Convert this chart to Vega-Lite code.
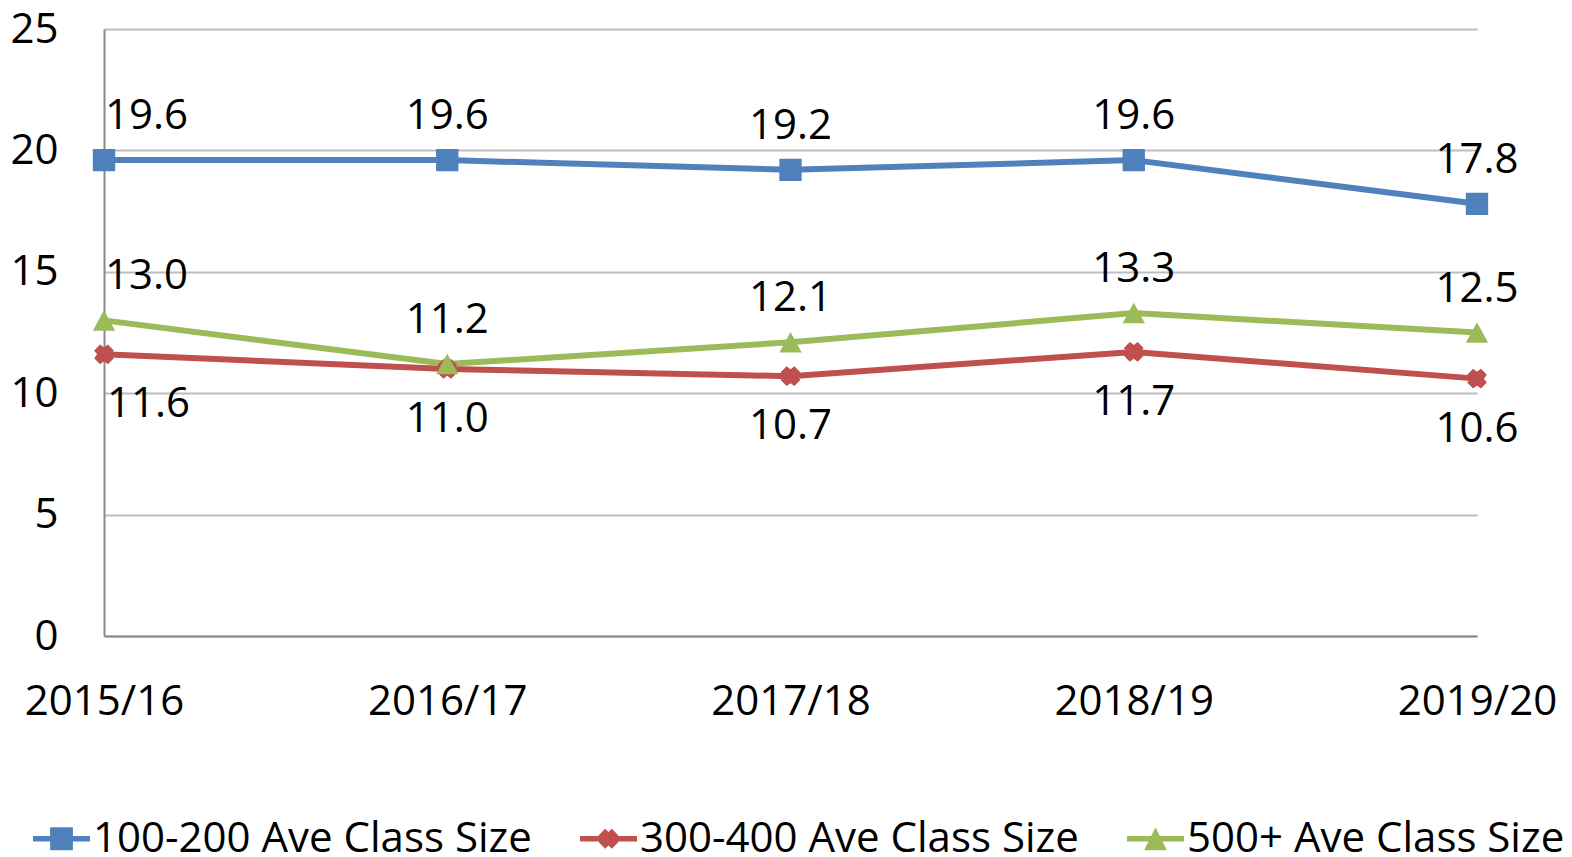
{
  "$schema": "https://vega.github.io/schema/vega-lite/v6.json",
  "width": 1373,
  "height": 607,
  "autosize": {"type": "none"},
  "padding": {"left": 104, "top": 29, "right": 95, "bottom": 221},
  "background": "white",
  "config": {
    "view": {"stroke": null},
    "font": "Open Sans",
    "axis": {
      "labelFont": "Open Sans",
      "labelFontSize": 42,
      "labelColor": "black",
      "domainColor": "#898989",
      "domainWidth": 2,
      "gridColor": "#BDBDBD",
      "gridWidth": 2,
      "ticks": false,
      "tickSize": 0,
      "title": null
    },
    "legend": {
      "labelFont": "Open Sans",
      "labelFontSize": 42,
      "labelColor": "black",
      "labelLimit": 800,
      "padding": 0
    }
  },
  "data": {
    "values": [
      {"year": "2015/16", "series": "100-200 Ave Class Size", "value": 19.6},
      {"year": "2016/17", "series": "100-200 Ave Class Size", "value": 19.6},
      {"year": "2017/18", "series": "100-200 Ave Class Size", "value": 19.2},
      {"year": "2018/19", "series": "100-200 Ave Class Size", "value": 19.6},
      {"year": "2019/20", "series": "100-200 Ave Class Size", "value": 17.8},
      {"year": "2015/16", "series": "300-400 Ave Class Size", "value": 11.6},
      {"year": "2016/17", "series": "300-400 Ave Class Size", "value": 11.0},
      {"year": "2017/18", "series": "300-400 Ave Class Size", "value": 10.7},
      {"year": "2018/19", "series": "300-400 Ave Class Size", "value": 11.7},
      {"year": "2019/20", "series": "300-400 Ave Class Size", "value": 10.6},
      {"year": "2015/16", "series": "500+ Ave Class Size", "value": 13.0},
      {"year": "2016/17", "series": "500+ Ave Class Size", "value": 11.2},
      {"year": "2017/18", "series": "500+ Ave Class Size", "value": 12.1},
      {"year": "2018/19", "series": "500+ Ave Class Size", "value": 13.3},
      {"year": "2019/20", "series": "500+ Ave Class Size", "value": 12.5}
    ]
  },
  "encoding": {
    "x": {
      "field": "year",
      "type": "ordinal",
      "scale": {"type": "point", "padding": 0},
      "axis": {"labelAngle": 0, "labelPadding": 45, "grid": false, "labelBaseline": "top"}
    },
    "y": {
      "field": "value",
      "type": "quantitative",
      "scale": {"domain": [0, 25], "nice": false, "zero": true},
      "axis": {"values": [0, 5, 10, 15, 20, 25], "labelPadding": 46, "grid": true}
    }
  },
  "layer": [
    {
      "mark": {"type": "line", "strokeWidth": 6, "strokeCap": "round", "strokeJoin": "round"},
      "encoding": {
        "color": {
          "field": "series",
          "type": "nominal",
          "scale": {
            "domain": ["100-200 Ave Class Size", "300-400 Ave Class Size", "500+ Ave Class Size"],
            "range": ["#4F81BD", "#C0504D", "#9BBB59"]
          },
          "legend": null
        }
      }
    },
    {
      "mark": {"type": "point", "filled": true, "opacity": 1, "size": 500, "strokeWidth": 0},
      "encoding": {
        "color": {
          "field": "series",
          "type": "nominal",
          "scale": {
            "domain": ["100-200 Ave Class Size", "300-400 Ave Class Size", "500+ Ave Class Size"],
            "range": ["#4F81BD", "#C0504D", "#9BBB59"]
          },
          "legend": null
        },
        "shape": {
          "field": "series",
          "type": "nominal",
          "scale": {
            "domain": ["100-200 Ave Class Size", "300-400 Ave Class Size", "500+ Ave Class Size"],
            "range": [
              "M-0.96,-1L0.96,-1L1,-0.96L1,0.96L0.96,1L-0.96,1L-1,0.96L-1,-0.96Z",
              "M-0.35,-0.88L0,-0.62L0.35,-0.88L0.88,-0.35L0.62,0L0.88,0.35L0.35,0.88L0,0.62L-0.35,0.88L-0.88,0.35L-0.62,0L-0.88,-0.35Z",
              "M0,-0.92L1,0.92L-1,0.92Z"
            ]
          },
          "legend": null
        }
      }
    },
    {
      "transform": [
        {"filter": "datum.series != '300-400 Ave Class Size' && datum.year == '2015/16'"}
      ],
      "mark": {"type": "text", "font": "Open Sans", "fontSize": 42, "color": "black", "align": "left", "baseline": "middle", "dx": 1, "dy": -44},
      "encoding": {"text": {"field": "value", "type": "quantitative", "format": ".1f"}}
    },
    {
      "transform": [
        {"filter": "datum.series != '300-400 Ave Class Size' && datum.year != '2015/16'"}
      ],
      "mark": {"type": "text", "font": "Open Sans", "fontSize": 42, "color": "black", "align": "center", "baseline": "middle", "dy": -44},
      "encoding": {"text": {"field": "value", "type": "quantitative", "format": ".1f"}}
    },
    {
      "transform": [
        {"filter": "datum.series == '300-400 Ave Class Size' && datum.year == '2015/16'"}
      ],
      "mark": {"type": "text", "font": "Open Sans", "fontSize": 42, "color": "black", "align": "left", "baseline": "middle", "dx": 3, "dy": 50},
      "encoding": {"text": {"field": "value", "type": "quantitative", "format": ".1f"}}
    },
    {
      "transform": [
        {"filter": "datum.series == '300-400 Ave Class Size' && datum.year != '2015/16'"}
      ],
      "mark": {"type": "text", "font": "Open Sans", "fontSize": 42, "color": "black", "align": "center", "baseline": "middle", "dy": 50},
      "encoding": {"text": {"field": "value", "type": "quantitative", "format": ".1f"}}
    },
    {
      "mark": {"type": "point", "filled": true, "opacity": 0, "size": 10},
      "encoding": {
        "color": {
          "field": "series",
          "type": "nominal",
          "scale": {
            "domain": ["100-200 Ave Class Size", "300-400 Ave Class Size", "500+ Ave Class Size"],
            "range": ["#4F81BD", "#C0504D", "#9BBB59"]
          },
          "legend": {
            "orient": "none",
            "direction": "horizontal",
            "columns": 3,
            "legendX": -71,
            "legendY": 781,
            "title": null,
            "symbolSize": 3249,
            "symbolOpacity": 1,
            "symbolStrokeWidth": 0,
            "labelOffset": 3,
            "columnPadding": 48
          }
        },
        "shape": {
          "field": "series",
          "type": "nominal",
          "scale": {
            "domain": ["100-200 Ave Class Size", "300-400 Ave Class Size", "500+ Ave Class Size"],
            "range": [
              "M-1,-0.1L-0.4,-0.1L-0.4,-0.4L0.4,-0.4L0.4,-0.1L1,-0.1L1,0.1L0.4,0.1L0.4,0.4L-0.4,0.4L-0.4,0.1L-1,0.1Z",
              "M-1,-0.1L1,-0.1L1,0.1L-1,0.1Z M-0.117,-0.35L0,-0.233L0.117,-0.35L0.35,-0.117L0.233,0L0.35,0.117L0.117,0.35L0,0.233L-0.117,0.35L-0.35,0.117L-0.233,0L-0.35,-0.117Z",
              "M-1,-0.1L1,-0.1L1,0.1L-1,0.1Z M0,-0.4L0.4,0.4L-0.4,0.4Z"
            ]
          },
          "legend": {
            "orient": "none",
            "direction": "horizontal",
            "columns": 3,
            "legendX": -71,
            "legendY": 781,
            "title": null,
            "symbolSize": 3249,
            "symbolOpacity": 1,
            "symbolStrokeWidth": 0,
            "labelOffset": 3,
            "columnPadding": 48
          }
        }
      }
    }
  ],
  "resolve": {"scale": {"color": "independent", "shape": "independent"}}
}
